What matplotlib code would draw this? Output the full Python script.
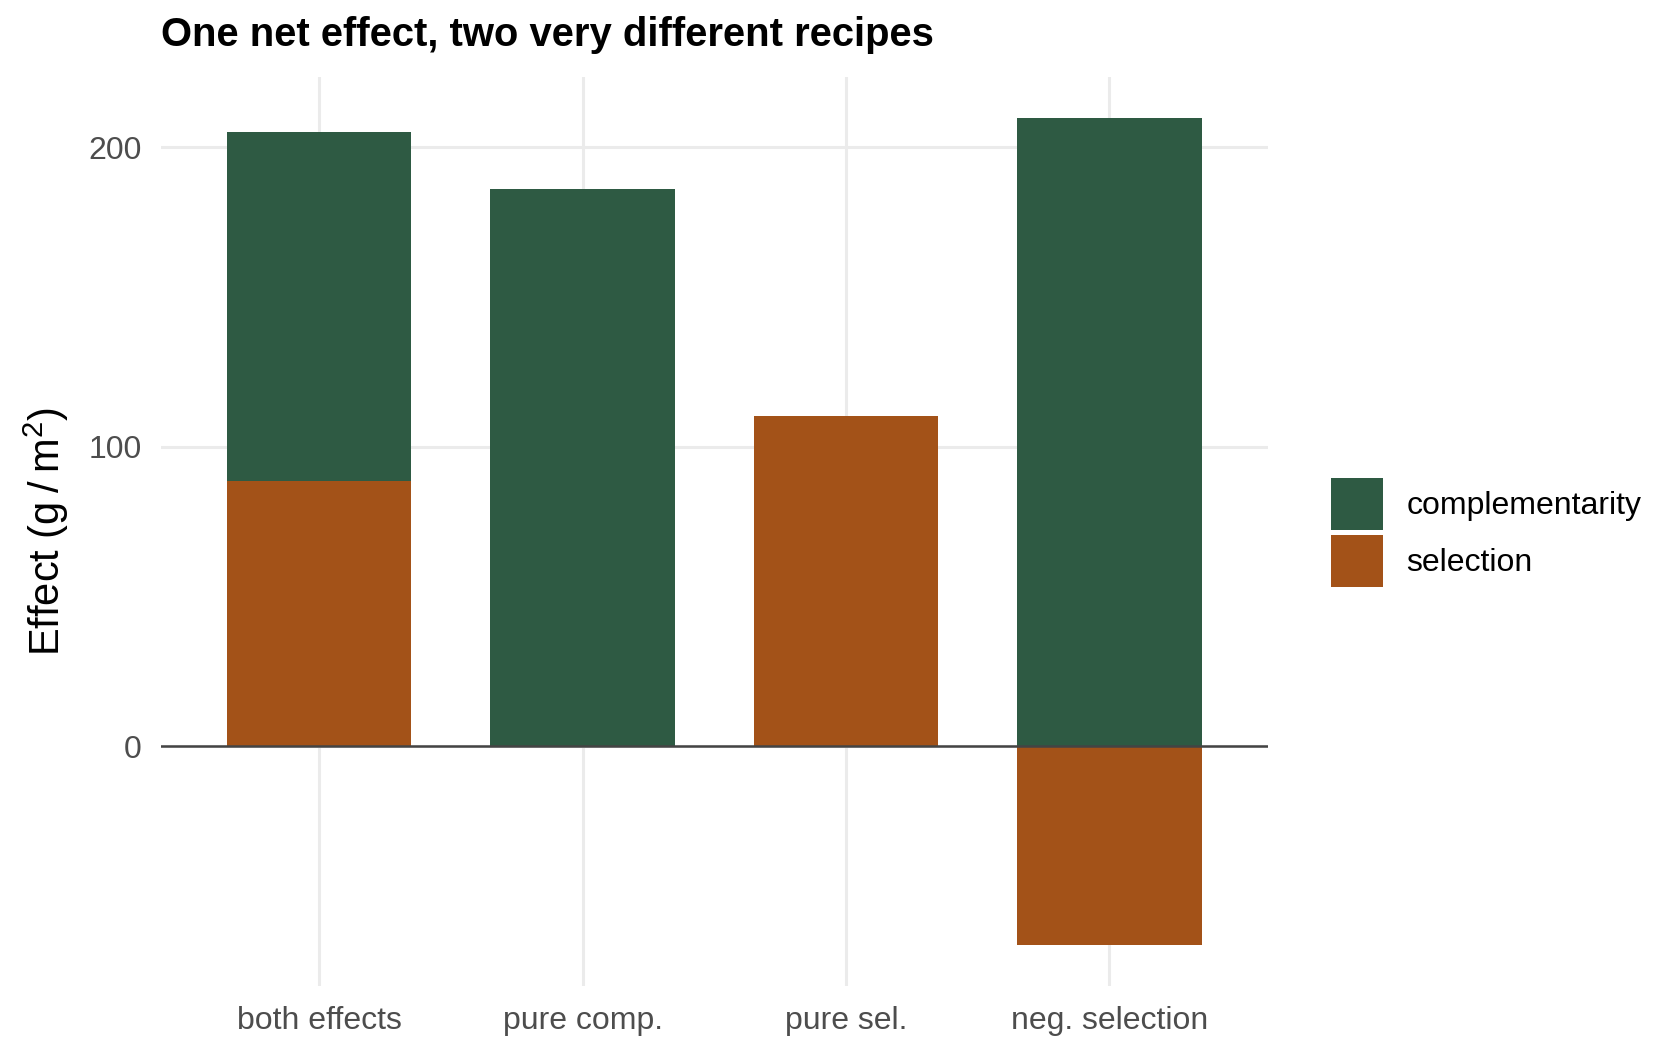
import matplotlib
matplotlib.use('Agg')
import matplotlib.pyplot as plt
from matplotlib.patches import Patch
import numpy as np

plt.rcParams['font.family'] = ['Liberation Sans', 'DejaVu Sans']
plt.rcParams['mathtext.fontset'] = 'custom'
plt.rcParams['mathtext.rm'] = 'Liberation Sans'

scenarios = ['both effects', 'pure comp.', 'pure sel.', 'neg. selection']
complementarity = [116.6, 186.1, 0.0, 209.6]
selection = [88.4, 0.0, 110.4, -66.2]

green = '#2E5A43'
orange = '#A35218'

fig = plt.figure(figsize=(8.4, 5.28), dpi=200)
ax = fig.add_axes([0.0958, 0.0663, 0.6587, 0.8608])

x = np.arange(len(scenarios))
comp = np.array(complementarity)
sel = np.array(selection)
# positive parts stack on top of each other, negatives hang below zero
comp_bottom = np.clip(sel, 0, None)

ax.bar(x, sel, width=0.7, color=orange, linewidth=0, zorder=2)
ax.bar(x, comp, bottom=comp_bottom, width=0.7, color=green, linewidth=0, zorder=2)
ax.axhline(0, color='#444444', linewidth=0.9, zorder=3)

ax.set_xlim(-0.6, 3.6)
ax.set_ylim(-80, 223.4)
ax.set_xticks(x)
ax.set_xticklabels(scenarios)
ax.set_yticks([0, 100, 200])

ax.grid(True, color='#ebebeb', linewidth=1.1, zorder=0)
ax.set_axisbelow(True)
for s in ax.spines.values():
    s.set_visible(False)
ax.tick_params(length=0, labelsize=11.5, labelcolor='#4d4d4d')
ax.tick_params(axis='x', pad=7.3)
ax.tick_params(axis='y', pad=7)

ax.set_ylabel('Effect (g\u2009/\u2009m$\\mathregular{^2}$)', fontsize=15, labelpad=6)

fig.text(0.0958, 0.967, 'One net effect, two very different recipes',
         fontsize=14.4, fontweight='bold', ha='left', va='center')

handles = [Patch(facecolor=green, edgecolor='none', label='complementarity'),
           Patch(facecolor=orange, edgecolor='none', label='selection')]
fig.legend(handles=handles, loc='center left', bbox_to_anchor=(0.792, 0.4957),
           frameon=False, fontsize=11.5, handlelength=1.65, handleheight=2.125,
           labelspacing=0.17, handletextpad=0.72, borderpad=0, borderaxespad=0)

fig.savefig('out.png', dpi=200)
